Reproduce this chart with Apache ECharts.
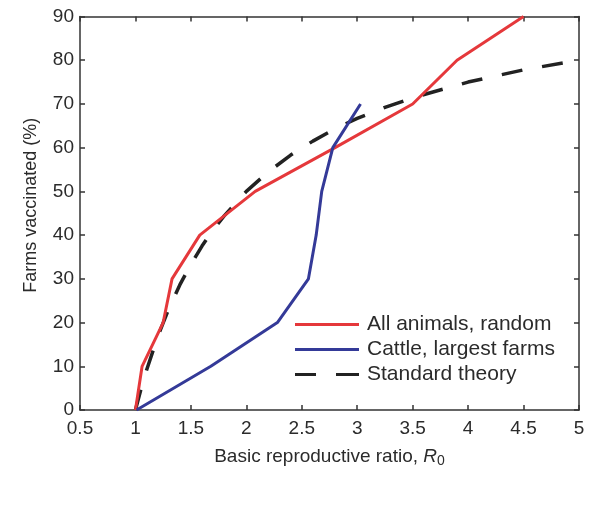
<!DOCTYPE html>
<html>
<head>
<meta charset="utf-8">
<script src="https://cdn.jsdelivr.net/npm/echarts@6/dist/echarts.min.js"></script>
<style>
html,body{margin:0;padding:0;background:#fff;}
#chart{width:600px;height:507px;}
</style>
</head>
<body>
<div id="chart"></div>
<script>
// Series names
var seriesNames = ['All animals, random', 'Cattle, largest farms', 'Standard theory'];

// All animals, random (R0, % vaccinated)
var randomR0  = [1.0, 1.06, 1.25, 1.33, 1.58, 2.08, 2.8, 3.5, 3.9, 4.5];
var randomPct = [0, 10, 20, 30, 40, 50, 60, 70, 80, 90];

// Cattle, largest farms
var cattleR0  = [1.01, 1.68, 2.28, 2.56, 2.63, 2.68, 2.78, 3.03];
var cattlePct = [0, 10, 20, 30, 40, 50, 60, 70];

// Standard theory
var theoryR0  = [1.0, 1.05, 1.1, 1.2, 1.3, 1.4, 1.5, 1.6, 1.7, 1.8, 2.0, 2.2, 2.4, 2.6, 2.8, 3.0, 3.25, 3.5, 4.0, 4.5, 5.0];
var theoryPct = [0, 4.8, 9.1, 16.7, 23.1, 28.6, 33.3, 37.5, 41.2, 44.4, 50, 54.5, 58.3, 61.5, 64.3, 66.7, 69.2, 71.4, 75, 77.8, 80];

// Axis ticks
var xTicks = [0.5, 1, 1.5, 2, 2.5, 3, 3.5, 4, 4.5, 5];
var yTicks = [0, 10, 20, 30, 40, 50, 60, 70, 80, 90];

function zip(a, b) { return a.map(function (v, i) { return [v, b[i]]; }); }

var FONT = '"Liberation Sans", Arial, Helvetica, sans-serif';
var TXT = '#2b2b2b';
var AX = '#333';

var SOLID_ICON = 'path://M0,0H64V3H0Z';
var DASH_ICON = 'path://M0,0H21V3H0Z M41,0H64V3H41Z';

var chart = echarts.init(document.getElementById('chart'), null, {renderer: 'canvas'});

var axisCommon = {
  axisLine: {show: true, onZero: false, lineStyle: {color: AX, width: 1.5}},
  axisTick: {show: true, inside: true, length: 5, lineStyle: {color: AX, width: 1.5}},
  splitLine: {show: false}
};

chart.setOption({
  animation: false,
  backgroundColor: '#fff',
  grid: {left: 80, right: 21, top: 16.5, bottom: 97, containLabel: false},
  legend: {
    orient: 'vertical',
    left: 295,
    top: 314,
    padding: 0,
    itemGap: 4,
    itemWidth: 64,
    itemHeight: 3,
    textStyle: {fontFamily: FONT, fontSize: 21, color: TXT, padding: [0, 0, 0, 3]},
    data: [
      {name: seriesNames[0], icon: SOLID_ICON},
      {name: seriesNames[1], icon: SOLID_ICON},
      {name: seriesNames[2], icon: DASH_ICON}
    ]
  },
  xAxis: [
    Object.assign({
      type: 'value', position: 'bottom',
      min: xTicks[0], max: xTicks[xTicks.length - 1], interval: 0.5,
      name: '{n|Basic reproductive ratio, }{i|R}{s|0}',
      nameLocation: 'middle', nameGap: 36,
      nameTextStyle: {
        rich: {
          n: {fontFamily: FONT, fontSize: 19, color: TXT},
          i: {fontFamily: FONT, fontSize: 19, fontStyle: 'italic', color: TXT},
          s: {fontFamily: FONT, fontSize: 14, color: TXT, padding: [8, 0, 0, 0]}
        }
      },
      axisLabel: {show: true, margin: 9, fontFamily: FONT, fontSize: 19, color: TXT}
    }, axisCommon),
    Object.assign({
      type: 'value', position: 'top',
      min: xTicks[0], max: xTicks[xTicks.length - 1], interval: 0.5,
      axisLabel: {show: false}
    }, axisCommon)
  ],
  yAxis: [
    Object.assign({
      type: 'value', position: 'left',
      min: yTicks[0], max: yTicks[yTicks.length - 1], interval: 10,
      name: 'Farms vaccinated (%)',
      nameLocation: 'middle', nameGap: 40, nameRotate: 90,
      nameTextStyle: {fontFamily: FONT, fontSize: 18, color: TXT, padding: [0, 0, 0, 16]},
      axisLabel: {show: true, margin: 6, fontFamily: FONT, fontSize: 19, color: TXT}
    }, axisCommon),
    Object.assign({
      type: 'value', position: 'right',
      min: yTicks[0], max: yTicks[yTicks.length - 1], interval: 10,
      axisLabel: {show: false}
    }, axisCommon)
  ],
  series: [
    {
      name: seriesNames[0], type: 'line', symbol: 'none', showSymbol: false,
      data: zip(randomR0, randomPct),
      lineStyle: {color: '#e5383b', width: 3},
      itemStyle: {color: '#e5383b'},
      z: 3
    },
    {
      name: seriesNames[1], type: 'line', symbol: 'none', showSymbol: false,
      data: zip(cattleR0, cattlePct),
      lineStyle: {color: '#343a98', width: 3},
      itemStyle: {color: '#343a98'},
      z: 4
    },
    {
      name: seriesNames[2], type: 'line', symbol: 'none', showSymbol: false,
      data: zip(theoryR0, theoryPct),
      lineStyle: {color: '#222', width: 3.5, type: [21, 20], cap: 'butt'},
      itemStyle: {color: '#222'},
      z: 2
    }
  ]
});
</script>
</body>
</html>
